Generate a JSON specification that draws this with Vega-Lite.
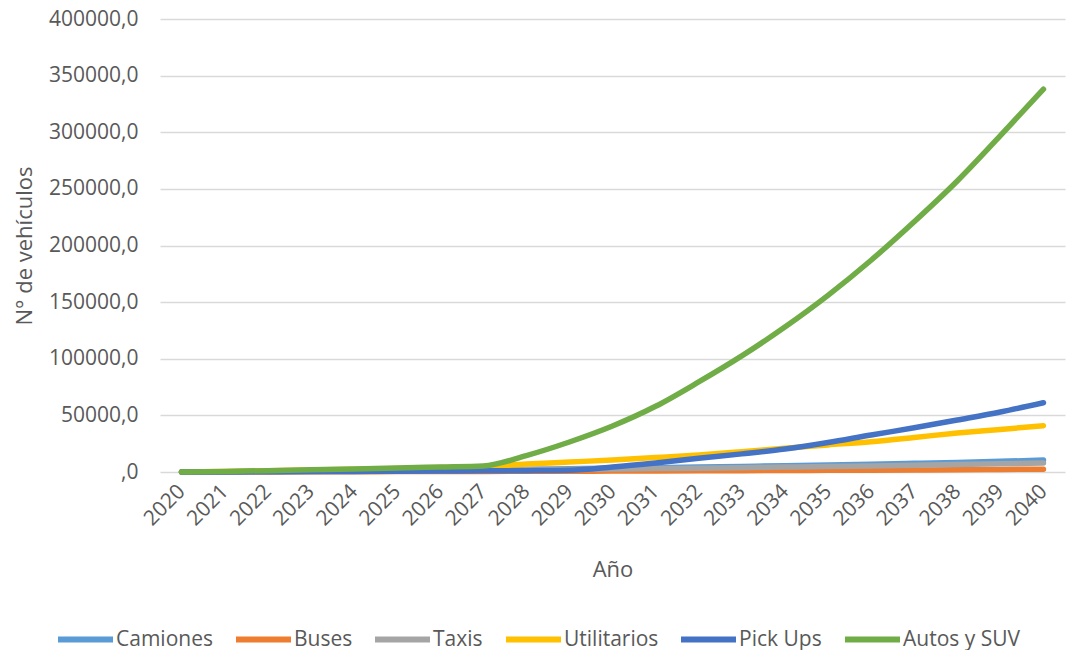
{
  "$schema": "https://vega.github.io/schema/vega-lite/v6.json",
  "width": 905,
  "height": 453,
  "autosize": {"type": "none"},
  "padding": {"left": 160, "top": 19, "right": 1, "bottom": 178},
  "background": "white",
  "data": {
    "values": [
      {"year": "2020", "series": "Camiones", "value": 0},
      {"year": "2021", "series": "Camiones", "value": 200},
      {"year": "2022", "series": "Camiones", "value": 450},
      {"year": "2023", "series": "Camiones", "value": 700},
      {"year": "2024", "series": "Camiones", "value": 1000},
      {"year": "2025", "series": "Camiones", "value": 1300},
      {"year": "2026", "series": "Camiones", "value": 1650},
      {"year": "2027", "series": "Camiones", "value": 2000},
      {"year": "2028", "series": "Camiones", "value": 2400},
      {"year": "2029", "series": "Camiones", "value": 2850},
      {"year": "2030", "series": "Camiones", "value": 3300},
      {"year": "2031", "series": "Camiones", "value": 3800},
      {"year": "2032", "series": "Camiones", "value": 4350},
      {"year": "2033", "series": "Camiones", "value": 4950},
      {"year": "2034", "series": "Camiones", "value": 5550},
      {"year": "2035", "series": "Camiones", "value": 6200},
      {"year": "2036", "series": "Camiones", "value": 6900},
      {"year": "2037", "series": "Camiones", "value": 7650},
      {"year": "2038", "series": "Camiones", "value": 8450},
      {"year": "2039", "series": "Camiones", "value": 9400},
      {"year": "2040", "series": "Camiones", "value": 10500},
      {"year": "2020", "series": "Buses", "value": 0},
      {"year": "2021", "series": "Buses", "value": 50},
      {"year": "2022", "series": "Buses", "value": 100},
      {"year": "2023", "series": "Buses", "value": 200},
      {"year": "2024", "series": "Buses", "value": 250},
      {"year": "2025", "series": "Buses", "value": 350},
      {"year": "2026", "series": "Buses", "value": 400},
      {"year": "2027", "series": "Buses", "value": 500},
      {"year": "2028", "series": "Buses", "value": 600},
      {"year": "2029", "series": "Buses", "value": 700},
      {"year": "2030", "series": "Buses", "value": 800},
      {"year": "2031", "series": "Buses", "value": 900},
      {"year": "2032", "series": "Buses", "value": 1000},
      {"year": "2033", "series": "Buses", "value": 1150},
      {"year": "2034", "series": "Buses", "value": 1300},
      {"year": "2035", "series": "Buses", "value": 1450},
      {"year": "2036", "series": "Buses", "value": 1600},
      {"year": "2037", "series": "Buses", "value": 1800},
      {"year": "2038", "series": "Buses", "value": 2000},
      {"year": "2039", "series": "Buses", "value": 2250},
      {"year": "2040", "series": "Buses", "value": 2500},
      {"year": "2020", "series": "Taxis", "value": 0},
      {"year": "2021", "series": "Taxis", "value": 150},
      {"year": "2022", "series": "Taxis", "value": 350},
      {"year": "2023", "series": "Taxis", "value": 550},
      {"year": "2024", "series": "Taxis", "value": 800},
      {"year": "2025", "series": "Taxis", "value": 1050},
      {"year": "2026", "series": "Taxis", "value": 1300},
      {"year": "2027", "series": "Taxis", "value": 1600},
      {"year": "2028", "series": "Taxis", "value": 1900},
      {"year": "2029", "series": "Taxis", "value": 2250},
      {"year": "2030", "series": "Taxis", "value": 2600},
      {"year": "2031", "series": "Taxis", "value": 3000},
      {"year": "2032", "series": "Taxis", "value": 3400},
      {"year": "2033", "series": "Taxis", "value": 3850},
      {"year": "2034", "series": "Taxis", "value": 4350},
      {"year": "2035", "series": "Taxis", "value": 4850},
      {"year": "2036", "series": "Taxis", "value": 5400},
      {"year": "2037", "series": "Taxis", "value": 6000},
      {"year": "2038", "series": "Taxis", "value": 6600},
      {"year": "2039", "series": "Taxis", "value": 7300},
      {"year": "2040", "series": "Taxis", "value": 8000},
      {"year": "2020", "series": "Utilitarios", "value": 0},
      {"year": "2021", "series": "Utilitarios", "value": 500},
      {"year": "2022", "series": "Utilitarios", "value": 1100},
      {"year": "2023", "series": "Utilitarios", "value": 1700},
      {"year": "2024", "series": "Utilitarios", "value": 2400},
      {"year": "2025", "series": "Utilitarios", "value": 3100},
      {"year": "2026", "series": "Utilitarios", "value": 3900},
      {"year": "2027", "series": "Utilitarios", "value": 4700},
      {"year": "2028", "series": "Utilitarios", "value": 7000},
      {"year": "2029", "series": "Utilitarios", "value": 8800},
      {"year": "2030", "series": "Utilitarios", "value": 10600},
      {"year": "2031", "series": "Utilitarios", "value": 12700},
      {"year": "2032", "series": "Utilitarios", "value": 15000},
      {"year": "2033", "series": "Utilitarios", "value": 17900},
      {"year": "2034", "series": "Utilitarios", "value": 21000},
      {"year": "2035", "series": "Utilitarios", "value": 23900},
      {"year": "2036", "series": "Utilitarios", "value": 26800},
      {"year": "2037", "series": "Utilitarios", "value": 30500},
      {"year": "2038", "series": "Utilitarios", "value": 34400},
      {"year": "2039", "series": "Utilitarios", "value": 37600},
      {"year": "2040", "series": "Utilitarios", "value": 40900},
      {"year": "2020", "series": "Pick Ups", "value": 0},
      {"year": "2021", "series": "Pick Ups", "value": 100},
      {"year": "2022", "series": "Pick Ups", "value": 250},
      {"year": "2023", "series": "Pick Ups", "value": 400},
      {"year": "2024", "series": "Pick Ups", "value": 550},
      {"year": "2025", "series": "Pick Ups", "value": 700},
      {"year": "2026", "series": "Pick Ups", "value": 850},
      {"year": "2027", "series": "Pick Ups", "value": 1000},
      {"year": "2028", "series": "Pick Ups", "value": 1200},
      {"year": "2029", "series": "Pick Ups", "value": 1600},
      {"year": "2030", "series": "Pick Ups", "value": 4400},
      {"year": "2031", "series": "Pick Ups", "value": 8000},
      {"year": "2032", "series": "Pick Ups", "value": 12100},
      {"year": "2033", "series": "Pick Ups", "value": 16000},
      {"year": "2034", "series": "Pick Ups", "value": 20300},
      {"year": "2035", "series": "Pick Ups", "value": 26000},
      {"year": "2036", "series": "Pick Ups", "value": 32700},
      {"year": "2037", "series": "Pick Ups", "value": 39000},
      {"year": "2038", "series": "Pick Ups", "value": 45900},
      {"year": "2039", "series": "Pick Ups", "value": 53000},
      {"year": "2040", "series": "Pick Ups", "value": 61200},
      {"year": "2020", "series": "Autos y SUV", "value": 0},
      {"year": "2021", "series": "Autos y SUV", "value": 500},
      {"year": "2022", "series": "Autos y SUV", "value": 1200},
      {"year": "2023", "series": "Autos y SUV", "value": 2000},
      {"year": "2024", "series": "Autos y SUV", "value": 2700},
      {"year": "2025", "series": "Autos y SUV", "value": 3500},
      {"year": "2026", "series": "Autos y SUV", "value": 4400},
      {"year": "2027", "series": "Autos y SUV", "value": 5300},
      {"year": "2028", "series": "Autos y SUV", "value": 14500},
      {"year": "2029", "series": "Autos y SUV", "value": 26500},
      {"year": "2030", "series": "Autos y SUV", "value": 40600},
      {"year": "2031", "series": "Autos y SUV", "value": 58000},
      {"year": "2032", "series": "Autos y SUV", "value": 79500},
      {"year": "2033", "series": "Autos y SUV", "value": 102500},
      {"year": "2034", "series": "Autos y SUV", "value": 128000},
      {"year": "2035", "series": "Autos y SUV", "value": 156000},
      {"year": "2036", "series": "Autos y SUV", "value": 187000},
      {"year": "2037", "series": "Autos y SUV", "value": 221000},
      {"year": "2038", "series": "Autos y SUV", "value": 257000},
      {"year": "2039", "series": "Autos y SUV", "value": 297000},
      {"year": "2040", "series": "Autos y SUV", "value": 338000}
    ]
  },
  "mark": {"type": "line", "strokeWidth": 5.5, "interpolate": "monotone", "strokeCap": "round", "strokeJoin": "round"},
  "encoding": {
    "x": {
      "field": "year",
      "type": "ordinal",
      "scale": {"type": "point", "padding": 0.5},
      "sort": null,
      "axis": {
        "title": "Año",
        "titleFont": "Open Sans",
        "titleFontSize": 22,
        "titleFontWeight": "normal",
        "titleColor": "#595959",
        "titlePadding": 30,
        "labelFont": "Open Sans",
        "labelFontSize": 21,
        "labelColor": "#595959",
        "labelAngle": -45,
        "labelAlign": "right",
        "labelBaseline": "middle",
        "labelPadding": 16,
        "ticks": false,
        "domain": false,
        "grid": false
      }
    },
    "y": {
      "field": "value",
      "type": "quantitative",
      "scale": {"domain": [0, 400000], "nice": false},
      "axis": {
        "title": "N° de vehículos",
        "titleFont": "Open Sans",
        "titleFontSize": 22,
        "titleFontWeight": "normal",
        "titleColor": "#595959",
        "titlePadding": 12,
        "labelFont": "Open Sans",
        "labelFontSize": 21,
        "labelColor": "#595959",
        "labelPadding": 22,
        "values": [0, 50000, 100000, 150000, 200000, 250000, 300000, 350000, 400000],
        "labelExpr": "datum.value == 0 ? ',0' : datum.value + ',0'",
        "ticks": false,
        "domain": false,
        "grid": true,
        "gridColor": "#D9D9D9",
        "gridWidth": 1.5
      }
    },
    "color": {
      "field": "series",
      "type": "nominal",
      "sort": ["Camiones", "Buses", "Taxis", "Utilitarios", "Pick Ups", "Autos y SUV"],
      "scale": {
        "domain": ["Camiones", "Buses", "Taxis", "Utilitarios", "Pick Ups", "Autos y SUV"],
        "range": ["#5B9BD5", "#ED7D31", "#A5A5A5", "#FFC000", "#4472C4", "#70AD47"]
      },
      "legend": {
        "title": null,
        "orient": "none",
        "direction": "horizontal",
        "legendX": -97.5,
        "legendY": 597.5,
        "symbolType": "M-1.375,0H1.375",
        "symbolSize": 1600,
        "symbolStrokeWidth": 6,
        "symbolStrokeCap": "round",
        "labelFont": "Open Sans",
        "labelFontSize": 21,
        "labelColor": "#595959",
        "labelOffset": 7.5,
        "columnPadding": 10
      }
    }
  },
  "config": {
    "view": {"stroke": null}
  }
}
